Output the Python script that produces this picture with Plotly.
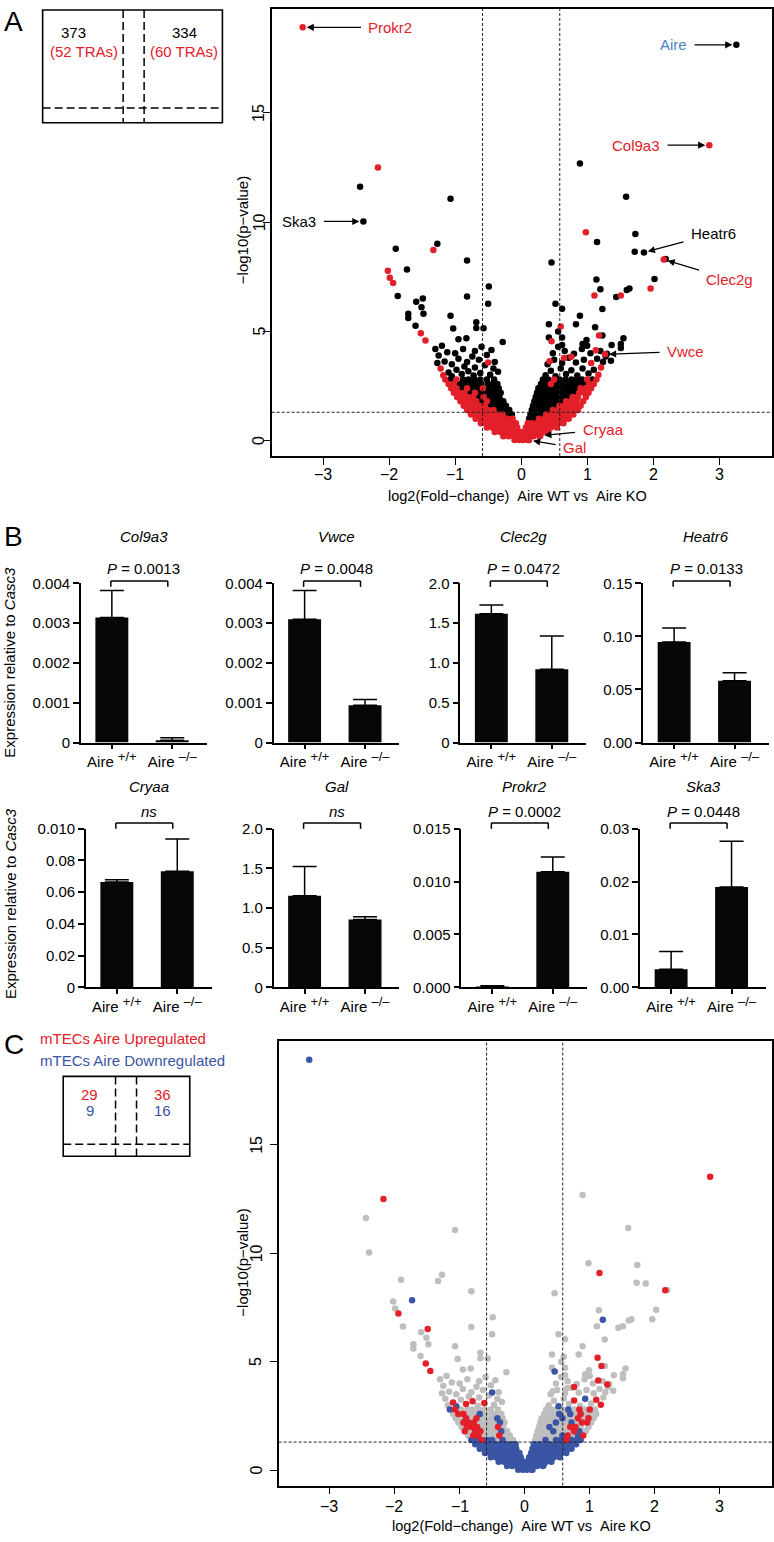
import plotly.graph_objects as go

W, H = 774, 1542
FONT = "Liberation Sans, Arial, sans-serif"
RED = "#e3202a"
BLUE = "#3b55a5"
LIGHT_BLUE = "#4d85c5"
GREY = "#bebebe"

# ---------- volcano data: log2(fold change) vs -log10(p) ----------
# isolated genes; pt_tra = colour in A (r TRA, k other), pt_reg = colour in C (r up, b down, g none, - absent)
pt_x = [-3.31, 3.26, 2.85, -2.17, -2.44, -2.39, -1.07, 0.89, 1.59, 0.98,
        1.73, 1.15, -1.90, -1.27, -1.33, 1.72, 1.86, 2.19, -0.82, -2.02,
        -1.99, -1.94, -1.73, -1.87, -0.82, 0.46, 2.02, 1.96, 2.16, 1.14,
        1.20, 1.11, 1.23, 1.44, 1.51, 1.60, 1.64, -0.49, -0.50, 0.52,
        0.62, -1.59, -1.49, -1.51, -1.48, -1.71, -1.71, -1.60, -1.52, -1.45,
        -1.07, -1.03, -0.83, -0.68, -0.68, -0.57, -0.95, -0.28, -0.50, 0.42,
        0.60, 0.56, 0.62, 0.42, 0.46, 0.62, 0.83, 0.89, 0.99, 0.93,
        1.12, 1.18, 1.23, 1.13, 1.37, 1.51, 1.51, 1.55, 1.36, 1.30,
        0.76, 0.65, 0.43, 1.27, 0.29, 0.12]
pt_y = [18.91, 18.11, 13.52, 12.50, 11.62, 10.03, 11.07, 12.68, 11.16, 9.54,
        9.46, 9.09, 8.78, 9.01, 8.72, 8.64, 8.61, 8.31, 8.25, 7.77,
        7.45, 7.22, 7.83, 6.62, 6.60, 8.15, 7.40, 6.96, 8.29, 7.37,
        6.93, 6.64, 6.02, 6.57, 6.64, 6.90, 6.96, 7.05, 6.27, 6.27,
        6.04, 6.36, 6.51, 6.11, 5.81, 5.81, 5.61, 5.26, 4.92, 4.58,
        5.72, 5.13, 4.69, 5.42, 5.16, 5.15, 4.64, 4.52, 3.58, 5.33,
        5.23, 5.00, 4.72, 4.72, 4.55, 4.38, 5.33, 5.72, 4.61, 4.43,
        5.19, 4.81, 4.81, 4.14, 4.38, 4.43, 4.24, 4.69, 3.66, 3.98,
        3.84, 3.78, 3.64, 3.95, 0.23, 0.03]
pt_tra = ("rkrrkkkkkr" "kkkkrkkkkr" "rrkkkkkrrk" "krkkrkkkkk" "kkkkkkkkrr"
          "kkkkkkkkrk" "rkkkrkkkkk" "krkrkkkkkk" "rrrrrr")
pt_reg = ("b-rrgggggg" "grgggggggg" "grbgggggrg" "bggggggggg" "ggrgggggrr"
          "ggggggggbg" "ggggbggggg" "rrgrgggggg" "rggrbb")

# loose genes at the top of the two arms (-log10 p about 3 to 4.4)
up_x = [-1.18, -1.10, -1.22, -1.05, -0.98, -0.90, -0.86, -0.80, -0.72, -0.70,
        -0.62, -0.55, -0.47, -0.42, -0.35, -1.27, -1.16, -1.05, -0.95, -0.82,
        -0.74, -0.64, -0.52, -0.40, -1.25, -1.12, -1.00, -0.88, -0.70, -0.60,
        -1.30, -1.20, -0.45,
        0.37, 0.45, 0.52, 0.60, 0.68, 0.76, 0.85, 0.93, 1.02, 1.10,
        1.17, 1.21, 0.40, 0.50, 0.62, 0.72, 0.83, 0.95, 1.06, 1.15,
        1.24, 0.48, 0.66, 0.80, 0.92, 1.05, 1.20, 1.28, 0.56, 1.00]
up_y = [3.00, 3.12, 3.30, 2.95, 3.25, 3.05, 3.40, 3.18, 2.98, 3.35,
        3.10, 3.45, 3.02, 3.30, 3.15, 3.55, 3.62, 3.50, 3.75, 3.60,
        3.85, 3.70, 3.92, 3.60, 3.90, 4.05, 4.00, 4.20, 4.10, 4.30,
        4.20, 4.35, 4.15,
        3.00, 3.20, 2.95, 3.30, 3.05, 3.22, 2.98, 3.30, 3.08, 3.25,
        3.02, 3.35, 3.50, 3.70, 3.55, 3.80, 3.58, 3.70, 3.55, 3.75,
        3.60, 4.00, 4.10, 3.98, 4.20, 4.00, 4.10, 3.85, 4.30, 4.35]
up_tra = ("rkrkkkkkkkkkkkkkkkkkkkkkkkkkkkkkk"
          "kkkkkkkkkkrrkkkkkkrkkkkkkkkkkk")
up_reg = ("grgbgrgrggrgggggggggggggggggggggg"
          "ggbggrgbgrrggggggggggggggggggg")

# dense cloud near the origin, one row per -log10(p) level
cloud_y = [0.03, 0.2, 0.4, 0.6, 0.8, 1.0, 1.2, 1.4, 1.6, 1.8, 2.0, 2.2, 2.4, 2.6, 2.8]
cloud_x = [
    [-0.1, -0.03, 0.03, 0.1],
    [-0.27, -0.19, -0.11, -0.04, 0.04, 0.11, 0.19, 0.28],
    [-0.4, -0.32, -0.24, -0.16, -0.08, 0.0, 0.08, 0.16, 0.24, 0.33, 0.41],
    [-0.52, -0.44, -0.36, -0.28, -0.2, -0.12, -0.06, 0.07, 0.13, 0.21, 0.29, 0.37, 0.45, 0.54],
    [-0.61, -0.53, -0.45, -0.37, -0.29, -0.21, -0.13, -0.08, 0.1, 0.16, 0.24, 0.32, 0.4, 0.48, 0.56, 0.64],
    [-0.69, -0.61, -0.53, -0.45, -0.37, -0.29, -0.21, -0.13, 0.12, 0.19, 0.27, 0.35, 0.43, 0.51, 0.59, 0.67, 0.72],
    [-0.76, -0.68, -0.6, -0.52, -0.44, -0.36, -0.28, -0.2, -0.14, 0.14, 0.22, 0.3, 0.38, 0.46, 0.54, 0.62, 0.7, 0.79],
    [-0.82, -0.74, -0.66, -0.58, -0.5, -0.42, -0.34, -0.26, -0.18, 0.16, 0.24, 0.32, 0.4, 0.48, 0.56, 0.64, 0.72, 0.8, 0.86],
    [-0.87, -0.79, -0.71, -0.63, -0.55, -0.47, -0.39, -0.31, -0.23, 0.18, 0.26, 0.34, 0.42, 0.5, 0.58, 0.66, 0.74, 0.82, 0.9],
    [-0.92, -0.84, -0.76, -0.68, -0.6, -0.52, -0.44, -0.36, -0.27, 0.2, 0.28, 0.36, 0.44, 0.52, 0.6, 0.68, 0.76, 0.84, 0.94],
    [-0.97, -0.89, -0.81, -0.73, -0.65, -0.57, -0.49, -0.41, -0.33, 0.22, 0.3, 0.38, 0.46, 0.54, 0.62, 0.7, 0.78, 0.86, 0.98],
    [-1.02, -0.94, -0.86, -0.78, -0.7, -0.62, -0.54, -0.46, -0.38, -0.31, 0.24, 0.32, 0.4, 0.48, 0.56, 0.64, 0.72, 0.8, 0.88, 0.96, 1.02],
    [-1.06, -0.98, -0.9, -0.82, -0.74, -0.66, -0.58, -0.5, -0.42, -0.34, 0.26, 0.34, 0.42, 0.5, 0.58, 0.66, 0.74, 0.82, 0.9, 0.98, 1.06],
    [-1.1, -1.02, -0.94, -0.86, -0.77, -0.69, -0.6, -0.5, -0.43, -0.36, 0.3, 0.37, 0.45, 0.53, 0.61, 0.7, 0.78, 0.86, 0.95, 1.03, 1.1],
    [-1.15, -1.07, -0.98, -0.88, -0.8, -0.71, -0.62, -0.52, -0.41, 0.33, 0.41, 0.5, 0.58, 0.67, 0.76, 0.84, 0.92, 1.0, 1.08, 1.14],
]
cloud_tra = ["rrrr", "rrrrrrrr", "rrrrrrrrrrr", "rrrrrrrrrrrrrr", "rrrrrrrrrrrrrrrr",
             "rrrrrrrrkkrrrrrrr", "rrrrrrrkkkkkrrrrrr", "rrrrrrkkkkkkkrrrrrr",
             "rrrrrkkkkkkkkkrrrrr", "rrrrkrkkkkkkkkkrrrr", "rrrrkrkkkkkkkkkkrrr",
             "rrrkrkkkkkkkkkkkkkrrr", "rrkrkkrkkkkkkkkkkkrrr", "rrkkkkkkkkkkrkkkkkkrr",
             "rkrkkkkkkkkrkkkkkrkr"]
cloud_reg = ["bbbb", "bbbbbbbb", "bbbbbbbbbbb", "bbbbbbbbbbbbbb", "bbbbbbbbbbbbbbbb",
             "bbbbbbbbbbbbbbbbb", "bbbbbbbbbbbbbbbbbb", "bbrbbgbggggbgbbrbbb",
             "grrgggrgggggggbrgbr", "rgrrgggbggggbgggrbg", "grrrgggrgggbgggrrgg",
             "grrrggggbggggbggbgrrg", "ggrgrgggbgggggbggrgrg", "grrggbgggggggbgbgrgg",
             "gbrgggggggggggbgrgrg"]

# labelled genes in A: index into pt_*, label centre (x, y), colour
lab_name = ["Prokr2", "Aire", "Col9a3", "Ska3", "Heatr6", "Clec2g", "Vwce", "Cryaa", "Gal"]
lab_idx = [0, 1, 2, 5, 16, 28, 83, 84, 85]
lab_tx = [-1.98, 2.31, 1.74, -3.36, 2.91, 3.16, 2.49, 1.24, 0.81]
lab_ty = [18.91, 18.11, 13.52, 10.03, 9.46, 7.39, 4.08, 0.50, -0.32]
lab_col = [RED, LIGHT_BLUE, RED, "black", "black", RED, RED, RED, RED]

vol_xticks = [-3, -2, -1, 0, 1, 2, 3]
vol_yticks = [0, 5, 10, 15]

# ---------- qPCR bars (panel B) ----------
b_gene = ["Col9a3", "Vwce", "Clec2g", "Heatr6", "Cryaa", "Gal", "Prokr2", "Ska3"]
wt_mean = [0.00314, 0.00310, 1.617, 0.0947, 0.0663, 1.153, 0.00005, 0.00343]
wt_err = [0.00068, 0.00072, 0.109, 0.0133, 0.0014, 0.370, 0.00011, 0.00337]
ko_mean = [0.00006, 0.000935, 0.919, 0.0582, 0.0731, 0.854, 0.01093, 0.01896]
ko_err = [0.00006, 0.000145, 0.420, 0.0075, 0.0204, 0.034, 0.00139, 0.00864]
b_p = ["<i>P</i> = 0.0013", "<i>P</i> = 0.0048", "<i>P</i> = 0.0472", "<i>P</i> = 0.0133",
       "<i>ns</i>", "<i>ns</i>", "<i>P</i> = 0.0002", "<i>P</i> = 0.0448"]
b_ymax = [0.004, 0.004, 2.0, 0.15, 0.10, 2.0, 0.015, 0.03]
b_tickvals = [[0, 0.001, 0.002, 0.003, 0.004], [0, 0.001, 0.002, 0.003, 0.004],
              [0, 0.5, 1.0, 1.5, 2.0], [0, 0.05, 0.10, 0.15],
              [0, 0.02, 0.04, 0.06, 0.08, 0.10], [0, 0.5, 1.0, 1.5, 2.0],
              [0, 0.005, 0.010, 0.015], [0, 0.01, 0.02, 0.03]]
b_ticktext = [["0", "0.001", "0.002", "0.003", "0.004"], ["0", "0.001", "0.002", "0.003", "0.004"],
              ["0", "0.5", "1.0", "1.5", "2.0"], ["0.00", "0.05", "0.10", "0.15"],
              ["0", "0.02", "0.04", "0.06", "0.08", "0.010"], ["0", "0.5", "1.0", "1.5", "2.0"],
              ["0.000", "0.005", "0.010", "0.015"], ["0.00", "0.01", "0.02", "0.03"]]
b_groups = ["Aire <sup><span style='font-size:13px'>+/+</span></sup>",
            "Aire <sup><span style='font-size:13px'>–/–</span></sup>"]

# ---------- layout geometry (pixels) ----------
def fx(X):
    return X / W

def fy(Y):
    return 1 - Y / H

VOL_A = dict(left=272, right=773, top=0, bottom=452, xlab=471, ylab=259.5, xt=492, yt=243, ytc=224)
VOL_C = dict(left=279, right=773, top=1044, bottom=1493, xlab=1514, ylab=256.5, xt=1534, yt=242, ytc=1268)
B_LEFT = [81, 274, 461, 644, 86, 274, 462, 641]
B_TOP = [580.7, 828.7]
B_ZERO = [741.7, 989.3]

fig = go.Figure()

all_x = pt_x + up_x + [x for row in cloud_x for x in row]
all_y = pt_y + up_y + [y for y, row in zip(cloud_y, cloud_x) for _ in row]
all_tra = pt_tra + up_tra + "".join(cloud_tra)
all_reg = pt_reg + up_reg + "".join(cloud_reg)


def pick(codes, c):
    xs = [x for x, k in zip(all_x, codes) if k == c]
    ys = [y for y, k in zip(all_y, codes) if k == c]
    return xs, ys


for c, col in [("k", "black"), ("r", RED)]:
    xs, ys = pick(all_tra, c)
    fig.add_trace(go.Scatter(x=xs, y=ys, mode="markers", xaxis="x", yaxis="y",
                             marker=dict(size=6.5, color=col, line=dict(width=0))))
for c, col in [("g", GREY), ("b", BLUE), ("r", RED)]:
    xs, ys = pick(all_reg, c)
    fig.add_trace(go.Scatter(x=xs, y=ys, mode="markers", xaxis="x2", yaxis="y2",
                             marker=dict(size=6.5, color=col, line=dict(width=0))))

for i in range(8):
    n = i + 3
    fig.add_trace(go.Bar(
        x=[0, 1], y=[wt_mean[i], ko_mean[i]], width=0.545,
        marker=dict(color="#070707", line=dict(width=0)),
        error_y=dict(type="data", array=[wt_err[i], ko_err[i]], arrayminus=[0, 0],
                     symmetric=False, color="black", thickness=1.5, width=12),
        xaxis=f"x{n}", yaxis=f"y{n}"))

layout = dict(width=W, height=H, margin=dict(l=0, r=0, t=0, b=0),
              paper_bgcolor="white", plot_bgcolor="rgba(0,0,0,0)", showlegend=False,
              font=dict(family=FONT, color="black", size=15))

for n, box in [("", VOL_A), ("2", VOL_C)]:
    layout["xaxis" + n] = dict(
        domain=[fx(box["left"]), fx(box["right"])], range=[-3.78, 3.8],
        anchor="y" + n, showline=True, mirror=True, linecolor="black", linewidth=1.5,
        ticks="outside", ticklen=7, tickwidth=1.3, tickcolor="black",
        tickvals=vol_xticks, showticklabels=False, showgrid=False, zeroline=False)
    layout["yaxis" + n] = dict(
        domain=[fy(box["bottom"]), fy(box["top"])], range=[-0.7, 19.75],
        anchor="x" + n, showline=True, mirror=True, linecolor="black", linewidth=1.5,
        ticks="outside", ticklen=7, tickwidth=1.3, tickcolor="black",
        tickvals=vol_yticks, showticklabels=False, showgrid=False, zeroline=False)

for i in range(8):
    n = str(i + 3)
    row = i // 4
    X0 = B_LEFT[i]
    layout["xaxis" + n] = dict(
        domain=[fx(X0), fx(X0 + 126)], range=[-31 / 60.5, 95 / 60.5], anchor="y" + n,
        showline=True, linecolor="black", linewidth=1.5, ticks="outside", ticklen=5,
        tickwidth=1.5, tickcolor="black", tickvals=[0, 1], ticktext=b_groups,
        tickfont=dict(size=15), showgrid=False, zeroline=False)
    layout["yaxis" + n] = dict(
        domain=[fy(B_ZERO[row]), fy(B_TOP[row])], range=[0, b_ymax[i]], anchor="x" + n,
        showline=True, linecolor="black", linewidth=1.5, ticks="outside", ticklen=6,
        tickwidth=1.5, tickcolor="black", tickvals=b_tickvals[i], ticktext=b_ticktext[i],
        tickfont=dict(size=15), showgrid=False, zeroline=False)

fig.update_layout(**layout)


def txt(X, Y, s, size=15, color="black", xanchor="center", angle=0, style="normal"):
    return dict(x=fx(X), y=fy(Y), xref="paper", yref="paper", text=s, showarrow=False,
                font=dict(size=size, color=color, style=style), xanchor=xanchor,
                yanchor="middle", textangle=angle)


def seg(X0, Y0, X1, Y1, width=1.5, dash=None):
    return dict(type="line", xref="paper", yref="paper", x0=fx(X0), y0=fy(Y0),
                x1=fx(X1), y1=fy(Y1), line=dict(color="black", width=width, dash=dash))


ann = []
shapes = []

# panel letters
ann += [txt(2, 13, "A", size=28, xanchor="left"),
        txt(2, 533, "B", size=28, xanchor="left"),
        txt(2, 1047, "C", size=28, xanchor="left")]

# volcano tick labels and axis titles
for n, box in [("", VOL_A), ("2", VOL_C)]:
    for v in vol_xticks:
        ann.append(dict(x=v, y=fy(box["xlab"]), xref="x" + n, yref="paper",
                        text=str(v).replace("-", "−"), showarrow=False,
                        font=dict(size=16), xanchor="center", yanchor="middle"))
    for v in vol_yticks:
        ann.append(dict(x=fx(box["ylab"]), y=v, xref="paper", yref="y" + n, text=str(v),
                        showarrow=False, font=dict(size=16), textangle=-90,
                        xanchor="center", yanchor="middle"))
    ann.append(txt((box["left"] + box["right"]) / 2 - 4, box["xt"],
                   "log2(Fold−change)\u00a0\u00a0Aire WT vs\u00a0\u00a0Aire KO", size=14.5))
    ann.append(txt(box["yt"], box["ytc"], "−log10(p−value)", size=15, angle=-90))

# threshold lines in both volcanos
for xa, ya in [("x", "y"), ("x2", "y2")]:
    for v in (-0.585, 0.585):
        shapes.append(dict(type="line", xref=xa, yref=ya + " domain", x0=v, x1=v, y0=0, y1=1,
                           line=dict(color="#222222", width=1, dash="3px,2px")))
    shapes.append(dict(type="line", xref=xa + " domain", yref=ya, x0=0, x1=1, y0=1.301, y1=1.301,
                       line=dict(color="#222222", width=1, dash="3px,2px")))

# gene labels with arrows in A
for name, i, tx, ty, col in zip(lab_name, lab_idx, lab_tx, lab_ty, lab_col):
    ann.append(dict(x=pt_x[i], y=pt_y[i], xref="x", yref="y", ax=tx, ay=ty, axref="x", ayref="y",
                    text=name, showarrow=True, arrowhead=2, arrowsize=1.1, arrowwidth=1.3,
                    arrowcolor="black", standoff=4, startstandoff=6,
                    font=dict(size=15, color=col)))

# inset schematic A
shapes += [dict(type="rect", xref="paper", yref="paper", x0=fx(42.7), x1=fx(222.7),
                y0=fy(115), y1=fy(1), line=dict(color="black", width=1.6)),
           seg(123.3, 1, 123.3, 115, dash="8px,4px"), seg(144.3, 1, 144.3, 115, dash="8px,4px"),
           seg(42.7, 100, 222.7, 100, dash="8px,4px")]
ann += [txt(73.5, 24, "373"), txt(84, 43, "(52 TRAs)", color=RED),
        txt(184.3, 24, "334"), txt(184.5, 43, "(60 TRAs)", color=RED)]

# inset schematic C
shapes += [dict(type="rect", xref="paper", yref="paper", x0=fx(63.3), x1=fx(190),
                y0=fy(1160), y1=fy(1079.3), line=dict(color="black", width=1.6)),
           seg(115.7, 1079.3, 115.7, 1160, dash="8px,4px"), seg(136.7, 1079.3, 136.7, 1160, dash="8px,4px"),
           seg(63.3, 1148, 190, 1148, dash="8px,4px")]
ann += [txt(37.7, 1040.7, "mTECs Aire Upregulated", color=RED, xanchor="left"),
        txt(37.7, 1063.3, "mTECs Aire Downregulated", color=BLUE, xanchor="left"),
        txt(89.5, 1097.7, "29", color=RED), txt(90, 1113.3, "9", color=BLUE),
        txt(163, 1097.7, "36", color=RED), txt(163, 1113.3, "16", color=BLUE)]

# panel B decorations
title_y = [533, 786]
p_y = [566, 811]
br_y = [578.3, 823]
for i in range(8):
    row = i // 4
    X0 = B_LEFT[i]
    ann.append(txt(X0 + 63, title_y[row], b_gene[i], style="italic"))
    ann.append(txt(X0 + 63, p_y[row], b_p[i]))
    shapes += [seg(X0 + 30, br_y[row], X0 + 87, br_y[row], width=1.5),
               seg(X0 + 30, br_y[row], X0 + 30, br_y[row] + 6, width=1.5),
               seg(X0 + 87, br_y[row], X0 + 87, br_y[row] + 6, width=1.5)]
ann += [txt(10, 660, "Expression relative to <i>Casc3</i>", angle=-90),
        txt(10, 904, "Expression relative to <i>Casc3</i>", angle=-90)]

fig.update_layout(annotations=ann, shapes=shapes)

fig.write_html("out.html", config={"displayModeBar": False},
               post_script="document.body.style.margin='0';")
